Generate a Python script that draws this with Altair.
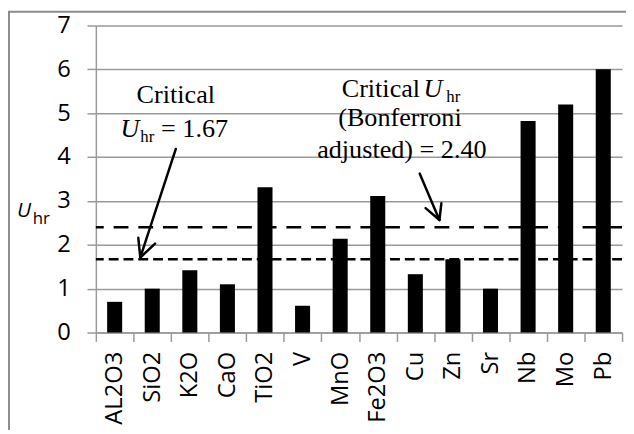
import altair as alt
import pandas as pd

categories = ["AL2O3", "SiO2", "K2O", "CaO", "TiO2", "V", "MnO", "Fe2O3",
              "Cu", "Zn", "Sr", "Nb", "Mo", "Pb"]
u_hr = [0.70, 1.00, 1.42, 1.10, 3.31, 0.61, 2.14, 3.11, 1.33, 1.67, 1.00, 4.82, 5.20, 6.00]
critical_values = [1.67, 2.40]
y_ticks = [0, 1, 2, 3, 4, 5, 6, 7]

df = pd.DataFrame({"element": categories, "u": u_hr})

W, H = 533, 311
GRID = "#9a9a9a"
SERIF = "Liberation Serif"
SANS = "Open Sans"

base = alt.Chart(df)

bars = base.mark_bar(color="black", width=alt.RelativeBandSize(0.4)).encode(
    x=alt.X("element:N", sort=categories,
            scale=alt.Scale(paddingInner=0, paddingOuter=0),
            axis=alt.Axis(title=None, labelAngle=-90, labelFont=SANS, labelFontSize=24,
                          labelColor="black", labelPadding=10, tickSize=9, tickColor=GRID,
                          tickWidth=1.5, tickBand="extent", domainColor=GRID, domainWidth=1.5,
                          grid=False)),
    y=alt.Y("u:Q", scale=alt.Scale(domain=[0, 7], nice=False),
            axis=alt.Axis(title=None, values=y_ticks, labelFont=SANS, labelFontSize=24,
                          labelColor="black", labelPadding=17, tickSize=9, tickColor=GRID,
                          tickWidth=1.5, grid=True, gridColor=GRID, gridWidth=1.5,
                          domainColor=GRID, domainWidth=1.5)),
)

crit_hi = alt.Chart().mark_rule(color="black", strokeWidth=2.7, strokeDash=[15, 10]).encode(
    y=alt.datum(critical_values[1]))
crit_lo = alt.Chart().mark_rule(color="black", strokeWidth=2.7, strokeDash=[10, 5]).encode(
    y=alt.datum(critical_values[0]))

def seg(x1, y1, x2, y2, color="black", sw=2.5):
    return alt.Chart().mark_rule(color=color, strokeWidth=sw, strokeCap="round").encode(
        x=alt.value(x1), y=alt.value(y1), x2=alt.value(x2), y2=alt.value(y2))

arrows = [
    seg(81, 125, 45, 235), seg(45, 235, 43, 215), seg(45, 235, 60, 221),
    seg(328, 150, 348, 197), seg(348, 197, 350, 180), seg(348, 197, 334, 185),
]

def txt(s, x, y, size=26.5, font=SERIF, style="normal", align="left"):
    return alt.Chart().mark_text(font=font, fontSize=size, fontStyle=style, align=align,
                                 baseline="alphabetic", color="black").encode(
        x=alt.value(x), y=alt.value(y), text=alt.value(s))

texts = [
    txt("Critical", 81, 79, align="center"),
    txt("U", 25, 113, style="italic"),
    txt("hr", 45, 118, size=17),
    txt("= 1.67", 66, 113),
    txt("Critical", 249, 72),
    txt("U", 332, 72, style="italic"),
    txt("hr", 355, 77, size=17),
    txt("(Bonferroni", 308, 102, align="center"),
    txt("adjusted) = 2.40", 310, 134, align="center"),
    # axis title U_hr
    txt("U", -80, 194, size=21, font=SANS, style="italic"),
    txt("hr", -64, 201, size=17, font=SANS),
]

border = [seg(-88, -14, -88, 420, color="#8c8c8c", sw=2),
          seg(-88, -14, 545, -14, color="#8c8c8c", sw=2)]

chart = alt.layer(bars, crit_hi, crit_lo, *arrows, *texts, *border).properties(
    width=W, height=H,
    autosize=alt.AutoSizeParams(type="none"),
    padding={"left": 89, "top": 15, "right": 4, "bottom": 96},
).configure_view(stroke=None)

chart.save("out.html", embed_options={"renderer": "svg", "actions": False})
